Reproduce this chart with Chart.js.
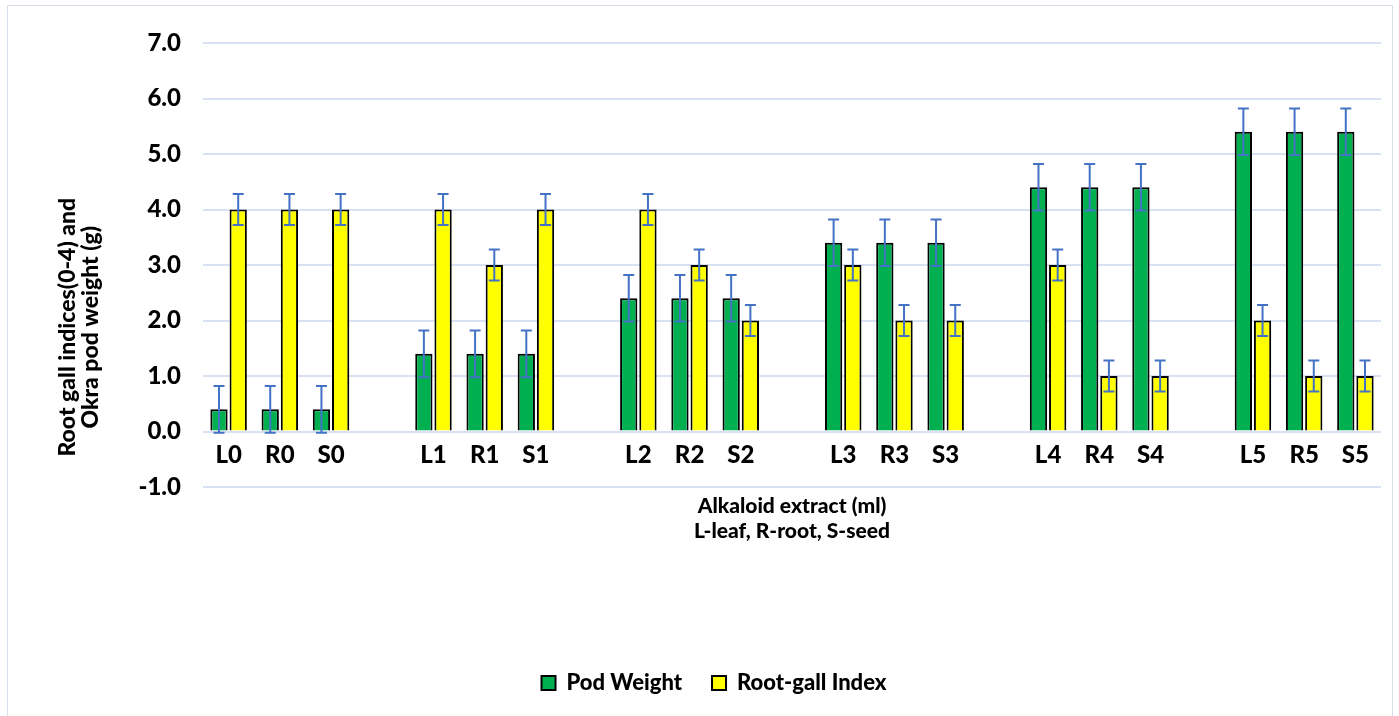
<!DOCTYPE html>
<html>
<head>
<meta charset="utf-8">
<script src="https://cdn.jsdelivr.net/npm/chart.js@4.4.1/dist/chart.umd.min.js"></script>
<style>
  html, body { margin: 0; padding: 0; background: #fff; }
  #frame { position: absolute; left: 7px; top: 5px; width: 1384px; height: 720px; border: 1px solid #d5dfec; }
  #wrap { position: absolute; left: 0; top: 0; width: 1399px; height: 716px; }
</style>
</head>
<body>
<div id="frame"></div>
<div id="wrap"><canvas id="myChart" width="1399" height="716"></canvas></div>
<script>
// categories ("" = spacer between dose groups)
const labels = ["L0", "R0", "S0", "", "L1", "R1", "S1", "", "L2", "R2", "S2", "",
  "L3", "R3", "S3", "", "L4", "R4", "S4", "", "L5", "R5", "S5"];
const podWeight = [0.4, 0.4, 0.4, null, 1.4, 1.4, 1.4, null, 2.4, 2.4, 2.4, null,
  3.4, 3.4, 3.4, null, 4.4, 4.4, 4.4, null, 5.4, 5.4, 5.4];
const rootGall = [4, 4, 4, null, 4, 3, 4, null, 4, 3, 2, null,
  3, 2, 2, null, 3, 1, 1, null, 2, 1, 1];
const podErr = [0.42, 0.42, 0.42, null, 0.42, 0.42, 0.42, null, 0.42, 0.42, 0.42, null,
  0.42, 0.42, 0.42, null, 0.42, 0.42, 0.42, null, 0.42, 0.42, 0.42];
const rootErr = [0.28, 0.28, 0.28, null, 0.28, 0.28, 0.28, null, 0.28, 0.28, 0.28, null,
  0.28, 0.28, 0.28, null, 0.28, 0.28, 0.28, null, 0.28, 0.28, 0.28];
const yTitleLines = ["Root gall indices(0-4) and", "Okra pod weight (g)"];

const FONT = "Lato";

// draws the +/- error whiskers over each bar
const errorBars = {
  id: "errorBars",
  afterDatasetsDraw(chart) {
    const ctx = chart.ctx;
    const y = chart.scales.y;
    chart.data.datasets.forEach((ds, i) => {
      const meta = chart.getDatasetMeta(i);
      meta.data.forEach((bar, j) => {
        const v = ds.data[j];
        const e = ds.errors[j];
        if (v == null || e == null) return;
        const top = y.getPixelForValue(v + e);
        const bot = y.getPixelForValue(v - e);
        ctx.save();
        ctx.strokeStyle = "#4472c4";
        ctx.lineWidth = 2;
        ctx.beginPath();
        ctx.moveTo(bar.x, top);
        ctx.lineTo(bar.x, bot);
        ctx.moveTo(bar.x - 5.5, top);
        ctx.lineTo(bar.x + 5.5, top);
        ctx.moveTo(bar.x - 5.5, bot);
        ctx.lineTo(bar.x + 5.5, bot);
        ctx.stroke();
        ctx.restore();
      });
    });
  },
};

// y title sits a bit below the axis middle, like the excel original
const yTitle = {
  id: "yTitle",
  afterDraw(chart) {
    const ctx = chart.ctx;
    const area = chart.chartArea;
    const cy = area.top + (area.bottom - area.top) * 0.64;
    ctx.save();
    ctx.fillStyle = "#000";
    ctx.font = "900 23px " + FONT;
    ctx.textAlign = "center";
    ctx.textBaseline = "middle";
    yTitleLines.forEach((line, i) => {
      ctx.save();
      ctx.translate(68 + i * 23, cy);
      ctx.rotate(-Math.PI / 2);
      ctx.fillText(line, 0, 0);
      ctx.restore();
    });
    ctx.restore();
  },
};

const ctx = document.getElementById("myChart").getContext("2d");
const myChart = new Chart(ctx, {
  type: "bar",
  data: {
    labels: labels,
    datasets: [
      {
        label: "Pod Weight",
        data: podWeight,
        errors: podErr,
        backgroundColor: "#00b050",
        borderColor: "#000000",
        borderWidth: 2,
      },
      {
        label: "Root-gall Index",
        data: rootGall,
        errors: rootErr,
        backgroundColor: "#ffff00",
        borderColor: "#000000",
        borderWidth: 2,
      },
    ],
  },
  plugins: [errorBars, yTitle],
  options: {
    responsive: false,
    animation: false,
    categoryPercentage: 0.75,
    barPercentage: 0.9,
    layout: {
      padding: { top: 43, right: 18, bottom: 12, left: 47 },
    },
    plugins: {
      tooltip: { enabled: false },
      legend: {
        position: "bottom",
        labels: {
          color: "#000",
          font: { family: FONT, size: 22, weight: "900" },
          boxWidth: 14,
          boxHeight: 14,
          padding: 30,
        },
      },
    },
    scales: {
      x: {
        type: "category",
        position: { y: 0 },
        grid: { display: false, drawTicks: false },
        border: { display: false },
        ticks: {
          color: "#000",
          padding: 9,
          font: { family: FONT, size: 24, weight: "900" },
          autoSkip: false,
          maxRotation: 0,
        },
      },
      x2: {
        type: "category",
        position: "bottom",
        grid: { display: false, drawTicks: false },
        border: { display: false },
        ticks: { display: false },
        title: {
          display: true,
          text: ["Alkaloid extract (ml)", "L-leaf, R-root, S-seed"],
          color: "#000",
          font: { family: FONT, size: 21, weight: "900", lineHeight: 1.19 },
          padding: { top: 7, bottom: 98 },
        },
      },
      y: {
        min: -1,
        max: 7,
        afterFit: (scale) => { scale.width = 156; },
        grid: { color: "#d9e2f3", lineWidth: 2, drawTicks: false },
        border: { display: false },
        ticks: {
          stepSize: 1,
          color: "#000",
          padding: 22,
          font: { family: FONT, size: 24, weight: "900" },
          callback: (v) => Number(v).toFixed(1),
        },
      },
    },
  },
});
</script>
</body>
</html>
